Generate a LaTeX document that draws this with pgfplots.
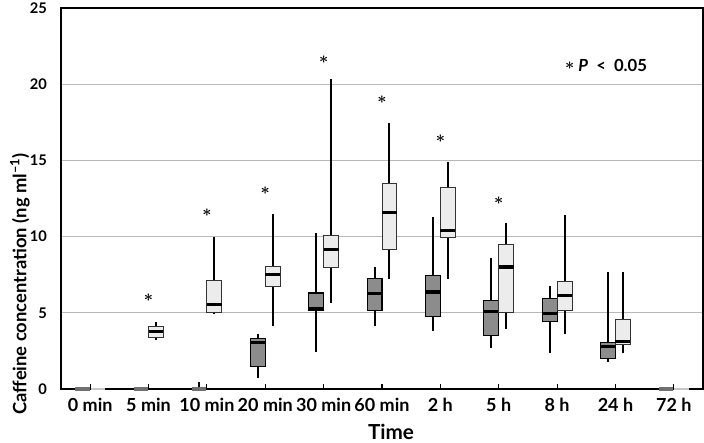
\documentclass[border=0pt]{standalone}
\usepackage{fontspec}
\setmainfont{Lato}
\usepackage{pgfplots}
\pgfplotsset{compat=1.18}
\usepgfplotslibrary{statistics}
\definecolor{dkfill}{HTML}{8C8C8C}
\definecolor{ltfill}{HTML}{ECECEC}
\definecolor{gridc}{HTML}{B8B8B8}
\definecolor{zdk}{HTML}{707070}
\definecolor{zlt}{HTML}{C8C8C8}
\newcommand\sigstar{\mbox{\boldmath$\ast$}}
\pgfplotsset{
  bxd/.style={boxplot/draw direction=y, fill=dkfill, draw=black, line width=0.8pt,
    boxplot/box extend=0.256, boxplot/whisker extend=0,
    boxplot/every whisker/.style={line width=1.5pt},
    boxplot/every median/.style={line width=2.4pt, black}},
  bxl/.style={boxplot/draw direction=y, fill=ltfill, draw=black!80, line width=0.7pt,
    boxplot/box extend=0.256, boxplot/whisker extend=0,
    boxplot/every whisker/.style={line width=1.5pt, black},
    boxplot/every median/.style={line width=2.4pt, black}},
}
\newcommand\bxD[6]{\addplot[bxd, boxplot prepared={draw position=#1, lower whisker=#2, lower quartile=#3, median=#4, upper quartile=#5, upper whisker=#6}] coordinates {};}
\newcommand\bxL[6]{\addplot[bxl, boxplot prepared={draw position=#1, lower whisker=#2, lower quartile=#3, median=#4, upper quartile=#5, upper whisker=#6}] coordinates {};}
\begin{document}
\begin{tikzpicture}
\begin{axis}[
  set layers,
  scale only axis, width=481.5pt, height=285.75pt,
  xmin=-0.5, xmax=10.5, ymin=0, ymax=25,
  clip=false,
  xtick={0,1,2,3,4,5,6,7,8,9,10},
  xticklabels={0 min,5 min,10 min,20 min,30 min,60 min,2 h,5 h,8 h,24 h,72 h},
  ytick={0,5,10,15,20,25},
  xtick pos=bottom, tick align=inside, major tick length=3.75pt,
  xtick style={black, line width=0.8pt},
  ytick style={draw=none},
  ymajorgrids, grid style={gridc, line width=0.7pt},
  axis line style={black, line width=1.2pt},
  /pgf/number format/assume math mode=true,
  xticklabel style={yshift=-3pt, font=\fontsize{13.5}{15}\selectfont\bfseries},
  yticklabel style={xshift=-7pt, font=\fontsize{11}{13}\selectfont\bfseries},
  xlabel={Time},
  xlabel style={at={(rel axis cs:0.514,-0.113)}, anchor=center, font=\fontsize{15.5}{17}\selectfont\bfseries},
]
% zero-level groups
\addplot[on layer=axis foreground, draw=zdk, line width=2.4pt] coordinates {(-0.256,0) (-0.01,0)};
\addplot[on layer=axis foreground, draw=zlt, line width=1.6pt] coordinates {(0.01,0) (0.256,0)};
\addplot[on layer=axis foreground, draw=zdk, line width=2.4pt] coordinates {(0.744,0) (0.99,0)};
\addplot[on layer=axis foreground, draw=zdk, line width=2.4pt] coordinates {(1.744,0) (1.99,0)};
\addplot[black, line width=1.5pt] coordinates {(1.872,0) (1.872,0.45)};
\addplot[on layer=axis foreground, draw=zdk, line width=2.4pt] coordinates {(9.744,0) (9.99,0)};
\addplot[on layer=axis foreground, draw=zlt, line width=1.6pt] coordinates {(10.01,0) (10.256,0)};
% boxes: position, lower whisker, lower quartile, median, upper quartile, upper whisker
\bxL{1.128}{3.21}{3.36}{3.75}{4.10}{4.40}
\bxL{2.128}{4.90}{5.02}{5.56}{7.09}{10.0}
\bxD{2.872}{0.70}{1.46}{3.03}{3.32}{3.64}
\bxL{3.128}{4.14}{6.70}{7.50}{8.07}{11.47}
\bxD{3.872}{2.40}{5.15}{5.28}{6.30}{10.23}
\bxL{4.128}{5.65}{8.00}{9.16}{10.10}{20.33}
\bxD{4.872}{4.14}{5.15}{6.28}{7.26}{8.03}
\bxL{5.128}{7.22}{9.16}{11.58}{13.50}{17.45}
\bxD{5.872}{3.80}{4.75}{6.37}{7.42}{11.28}
\bxL{6.128}{7.24}{9.95}{10.41}{13.20}{14.90}
\bxD{6.872}{2.70}{3.51}{5.10}{5.80}{8.57}
\bxL{7.128}{3.95}{5.02}{8.00}{9.47}{10.91}
\bxD{7.872}{2.34}{4.43}{4.93}{5.93}{6.76}
\bxL{8.128}{3.62}{5.13}{6.11}{7.05}{11.45}
\bxD{8.872}{1.79}{2.01}{2.79}{3.05}{7.66}
\bxL{9.128}{2.34}{2.92}{3.10}{4.54}{7.66}
% significance stars
\addplot[draw=none, mark=none, nodes near coords={\sigstar},
  every node near coord/.append style={anchor=center, inner sep=0pt, font=\fontsize{12.5}{13}\selectfont}]
  coordinates {(1,5.98) (2,11.54) (3,12.98) (4,21.6) (5,18.96) (6,16.4) (7,12.37)};
\node[font=\fontsize{12.5}{14}\selectfont\bfseries] at (axis cs:8.84,21.2) {\raisebox{0.12em}{\sigstar}~\textit{P}~~<~~0.05};
\node[rotate=90, anchor=west, inner sep=0pt, font=\fontsize{13.8}{16}\selectfont\bfseries] at (rel axis cs:-0.0639,-0.068) {Caffeine concentration (ng ml\textsuperscript{--1})};
\end{axis}
\pgfresetboundingbox
\path ([xshift=-45.75pt,yshift=-40.5pt]current axis.south west) rectangle ([xshift=0.75pt,yshift=6pt]current axis.north east);
\end{tikzpicture}
\end{document}
